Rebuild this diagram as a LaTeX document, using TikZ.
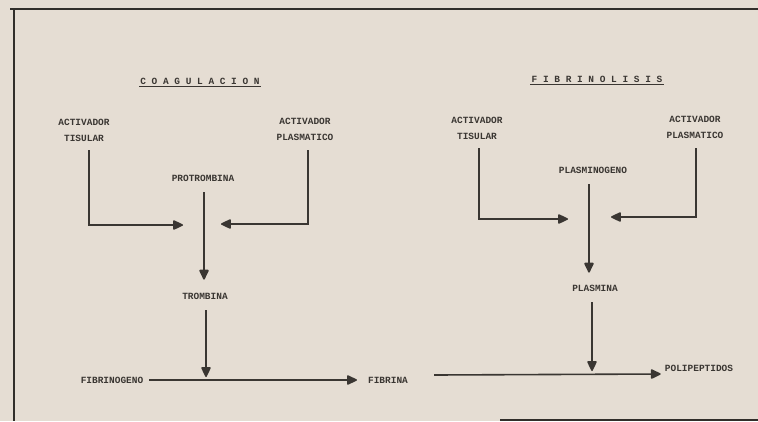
\documentclass[tikz,border=0pt]{standalone}
\usepackage{fontspec}
\setmonofont{Liberation Mono}
\usetikzlibrary{arrows.meta,calc}
\definecolor{paper}{RGB}{229,221,211}
\definecolor{ink}{RGB}{58,54,50}
\begin{document}
\begin{tikzpicture}[x=1bp,y=-1bp,
  lbl/.style={font=\ttfamily\bfseries\fontsize{9.5}{16}\selectfont, text=ink, align=center, inner sep=1bp},
  ttl/.style={font=\ttfamily\bfseries\fontsize{9.5}{12}\selectfont, text=ink, inner sep=1bp},
  conn/.style={draw=ink, line width=1.6bp, -{Triangle[length=11bp,width=10bp,round]}},
  plain/.style={draw=ink, line width=1.5bp},
  frame/.style={draw=ink!85!black, line width=1.6bp}]
\fill[paper] (0,0) rectangle (758,421);
\useasboundingbox (0,0) rectangle (758,421);
% frame
\draw[frame] (10,9) -- (758,9);
\draw[frame] (14,9) -- (14,421);
\draw[frame] (500,420) -- (758,420);
% titles
\node[ttl] (ctit) at (200,81) {C O A G U L A C I O N};
\node[ttl] (ftit) at (597,79) {F I B R I N O L I S I S};
\draw[plain, line width=1.6bp] ($(ctit.south west)+(0,1)$) -- ($(ctit.south east)+(0,1)$);
\draw[plain, line width=1.6bp] ($(ftit.south west)+(0,1)$) -- ($(ftit.south east)+(0,1)$);
% coagulacion
\node[lbl] (ltis) at (84,130) {ACTIVADOR\\TISULAR};
\node[lbl] (lpla) at (305,129) {ACTIVADOR\\PLASMATICO};
\node[lbl] (prot) at (203,178) {PROTROMBINA};
\node[lbl] (trom) at (205,296) {TROMBINA};
\node[lbl] (fibg) at (112,380) {FIBRINOGENO};
\node[lbl] (fib) at (388,380) {FIBRINA};
\coordinate (lj1) at (183,225);
\coordinate (lj2) at (221,224);
\coordinate (fj) at (206,377);
\draw[conn] ($(ltis.south)+(5,8)$) |- (lj1);
\draw[conn] ($(lpla.south)+(3,9)$) |- (lj2);
\draw[conn] ($(prot.south)+(1,10)$) -- ($(trom.north)+(-1,-12)$);
\draw[conn] ($(trom.south)+(1,10)$) -- (fj);
\draw[conn] ($(fibg.east)+(5,0)$) -- ($(fib.west)+(-10,0)$);
% fibrinolisis
\node[lbl] (rtis) at (477,128) {ACTIVADOR\\TISULAR};
\node[lbl] (rpla) at (695,127) {ACTIVADOR\\PLASMATICO};
\node[lbl] (plg) at (593,170) {PLASMINOGENO};
\node[lbl] (plm) at (595,288) {PLASMINA};
\node[lbl] (polip) at (699,368) {POLIPEPTIDOS};
\coordinate (rj1) at (568,219);
\coordinate (rj2) at (611,217);
\coordinate (pj) at (592,371);
\draw[conn] ($(rtis.south)+(2,8)$) |- (rj1);
\draw[conn] ($(rpla.south)+(1,9)$) |- (rj2);
\draw[conn] ($(plg.south)+(-4,10)$) -- ($(plm.north)+(-6,-11)$);
\draw[conn] ($(plm.south)+(-3,10)$) -- (pj);
\draw[conn] ($(fib.east)+(25,-5)$) -- ($(polip.west)+(-3,6)$);
\end{tikzpicture}
\end{document}
